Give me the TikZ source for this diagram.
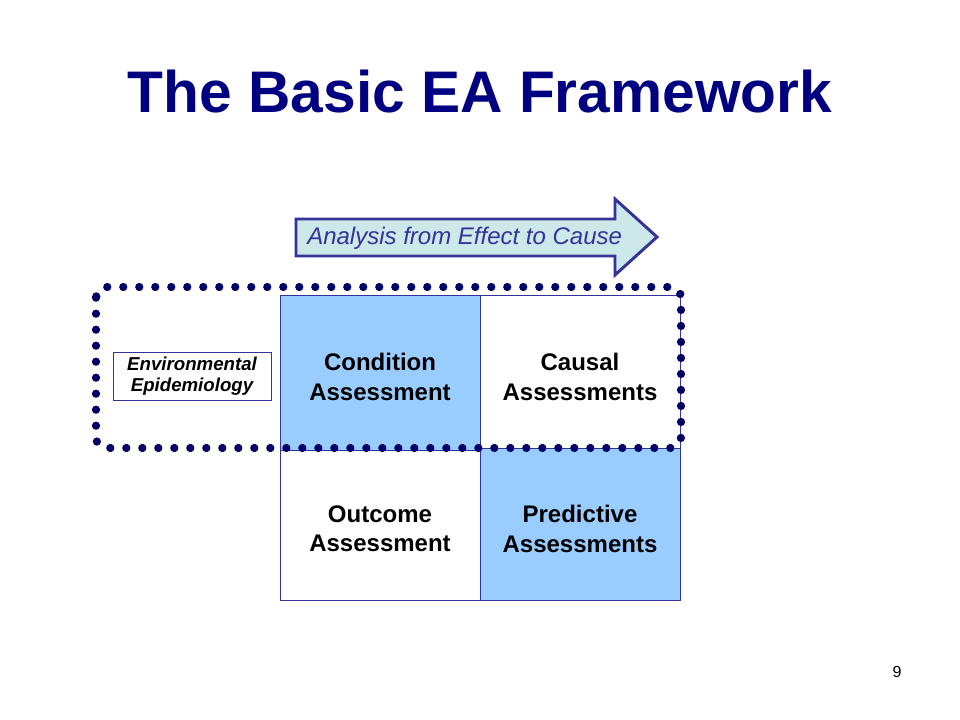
\documentclass[tikz,border=0pt]{standalone}
\usepackage{fontspec}
\setmainfont{Liberation Sans}
\definecolor{navy}{HTML}{000080}
\definecolor{dotnavy}{HTML}{000066}
\definecolor{edgenavy}{HTML}{333399}
\definecolor{cellblue}{HTML}{99CCFF}
\definecolor{arrowfill}{HTML}{CCE8E8}
\begin{document}
\begin{tikzpicture}[x=0.75pt,y=-0.75pt,
  cell/.style={draw=edgenavy,line width=0.75pt,minimum width=150pt,inner sep=0pt,
    align=center,font=\fontsize{18}{22}\selectfont\bfseries},
  bluecell/.style={cell,fill=cellblue},
  whitecell/.style={cell,fill=white},
  celltext/.style={align=center,font=\fontsize{18}{22}\selectfont\bfseries},
  dotted box/.style={draw=dotnavy,line width=6.2pt,line cap=round,
    dash pattern=on 0pt off 12pt,rounded corners=8pt},
  bigarrow/.style={draw=edgenavy,line width=2.2pt,fill=arrowfill,line join=miter}]
\useasboundingbox (0,0) rectangle (960,720);
\fill[white] (0,0) rectangle (960,720);
% title
\node[text=navy,font=\fontsize{44}{50}\selectfont\bfseries] (title) at (480,92) {The Basic EA Framework};
% arrow
\draw[bigarrow] (296,219) -- (615,219) -- (615,199) -- (657,237) -- (615,275) -- (615,256) -- (296,256) -- cycle;
\node[anchor=west,text=edgenavy,font=\fontsize{18}{21.6}\selectfont\itshape,inner sep=0pt] (arrowtext) at (307,238) {Analysis from Effect to Cause};
% cells
\node[bluecell,minimum height=115.5pt] (cond) at (380,373) {};
\node[whitecell,minimum height=115.5pt] (causal) at (580,373) {};
\node[whitecell,minimum height=112.5pt] (outcome) at (380,525) {};
\node[bluecell,minimum height=114pt] (pred) at (580,524) {};
\node[celltext] (condtext) at (380,377) {Condition\\Assessment};
\node[celltext] (causaltext) at (580,377) {Causal\\Assessments};
\node[celltext] (outcometext) at (380,529) {Outcome\\Assessment};
\node[celltext] (predtext) at (580,529) {Predictive\\Assessments};
% environmental epidemiology
\node[draw=edgenavy,line width=0.75pt,fill=white,minimum width=118.5pt,minimum height=36pt,inner sep=0pt,
  align=center,font=\fontsize{14}{15.8}\selectfont\bfseries\itshape] (env) at (192,376) {Environmental\\Epidemiology};
% dotted outline
\draw[dotted box] (96,287) rectangle (681,448);
% page number
\node[font=\fontsize{12}{14}\selectfont] (page) at (897,672) {9};
\end{tikzpicture}
\end{document}
